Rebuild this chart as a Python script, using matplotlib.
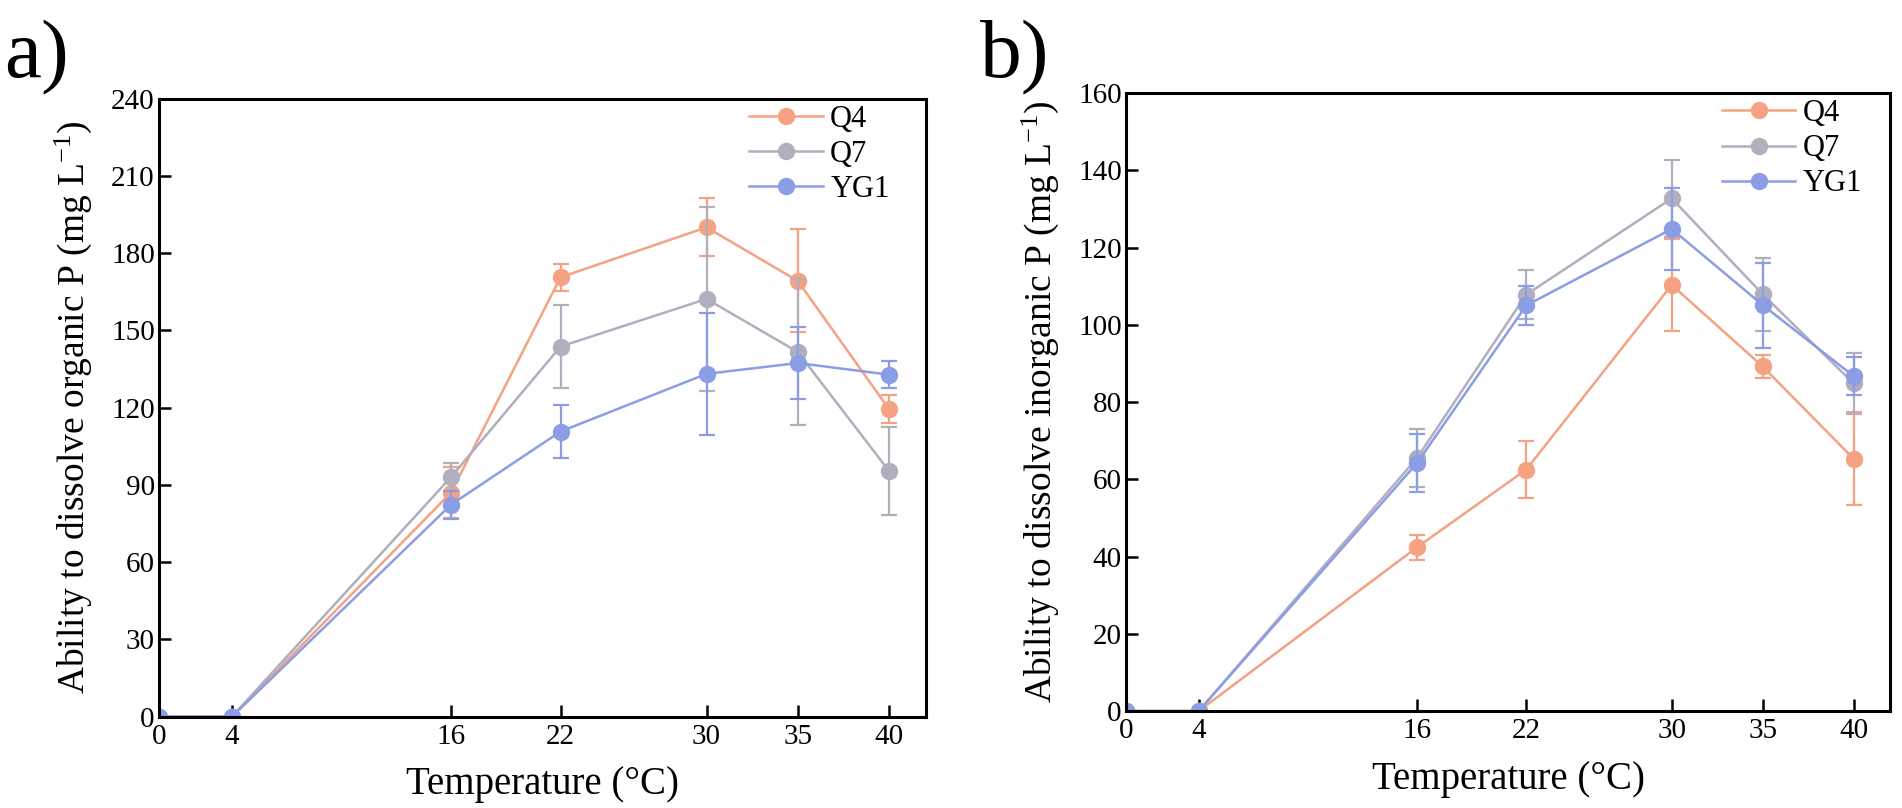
import numpy as np
import matplotlib
matplotlib.use('Agg')
import matplotlib.pyplot as plt

plt.rcParams['font.family'] = ['Liberation Serif', 'DejaVu Serif']
plt.rcParams['mathtext.fontset'] = 'custom'
plt.rcParams['mathtext.rm'] = 'Liberation Serif'
plt.rcParams['mathtext.it'] = 'Liberation Serif:italic'

temps = [0, 4, 16, 22, 30, 35, 40]
strains = ['Q4', 'Q7', 'YG1']
colors = {'Q4': '#F5A283', 'Q7': '#B1AEBE', 'YG1': '#8B9DE4'}

# a) organic P
org_q4 = [0, 0, 87, 170.6, 190, 169.2, 119.4]
org_q4_err = [0, 0, 10, 5.2, 11.3, 20, 5.3]
org_q7 = [0, 0, 93, 143.7, 162.2, 141.6, 95.4]
org_q7_err = [0, 0, 5.5, 16, 35.7, 28.5, 17]
org_yg1 = [0, 0, 82.3, 110.7, 133.1, 137.3, 132.8]
org_yg1_err = [0, 0, 5.5, 10.2, 23.8, 14, 5.2]

# b) inorganic P
inorg_q4 = [0, 0, 42.4, 62.5, 110.3, 89.2, 65.3]
inorg_q4_err = [0, 0, 3.2, 7.3, 12, 2.9, 12]
inorg_q7 = [0, 0, 65.5, 107.8, 132.7, 107.9, 84.8]
inorg_q7_err = [0, 0, 7.5, 6.3, 10, 9.5, 8]
inorg_yg1 = [0, 0, 64.2, 105, 124.8, 105.1, 86.7]
inorg_yg1_err = [0, 0, 7.4, 5, 10.5, 11, 5]

panels = [
    {'rect': [0.0836, 0.1131, 0.4030, 0.7649], 'tag': 'a)', 'tag_x': 0.002, 'leg_x': 0.77,
     'vals': [org_q4, org_q7, org_yg1], 'errs': [org_q4_err, org_q7_err, org_yg1_err],
     'ymax': 240, 'ystep': 30, 'ylabel': 'Ability to dissolve organic P (mg L$^{\\mathrm{-1}}$)'},
    {'rect': [0.5920, 0.1200, 0.4017, 0.7649], 'tag': 'b)', 'tag_x': 0.515, 'leg_x': 0.78,
     'vals': [inorg_q4, inorg_q7, inorg_yg1], 'errs': [inorg_q4_err, inorg_q7_err, inorg_yg1_err],
     'ymax': 160, 'ystep': 20, 'ylabel': 'Ability to dissolve inorganic P (mg L$^{\\mathrm{-1}}$)'},
]

fig = plt.figure(figsize=(19.02, 8.08), dpi=100)

for p in panels:
    ax = fig.add_axes(p['rect'])
    for name, v, e in zip(strains, p['vals'], p['errs']):
        ax.errorbar(temps, v, yerr=e, fmt='none', ecolor=colors[name],
                    elinewidth=1.6, capsize=6, capthick=1.6)
        ax.plot(temps, v, color=colors[name], marker='o', markersize=11.5,
                linewidth=1.8, label=name)
    ax.set_xlim(0, 42)
    ax.set_ylim(0, p['ymax'])
    ax.set_xticks(temps)
    ax.set_yticks(np.arange(0, p['ymax'] + 1, p['ystep']))
    ax.tick_params(direction='in', length=8.5, width=1.8, labelsize=21, pad=3)
    ax.tick_params(axis='x', pad=5)
    for s in ax.spines.values():
        s.set_linewidth(2.2)
    ax.set_xlabel('Temperature (°C)', fontsize=28, labelpad=12)
    ax.set_ylabel(p['ylabel'], fontsize=27, labelpad=12)
    ax.legend(loc='upper left', bbox_to_anchor=(p['leg_x'], 0.99), frameon=False, fontsize=22,
              handlelength=2.4, handletextpad=0.25, labelspacing=0.2, borderpad=0,
              borderaxespad=0)
    fig.text(p['tag_x'], 0.975, p['tag'], fontsize=60, va='top', ha='left')

fig.savefig('out.png', dpi=100)
